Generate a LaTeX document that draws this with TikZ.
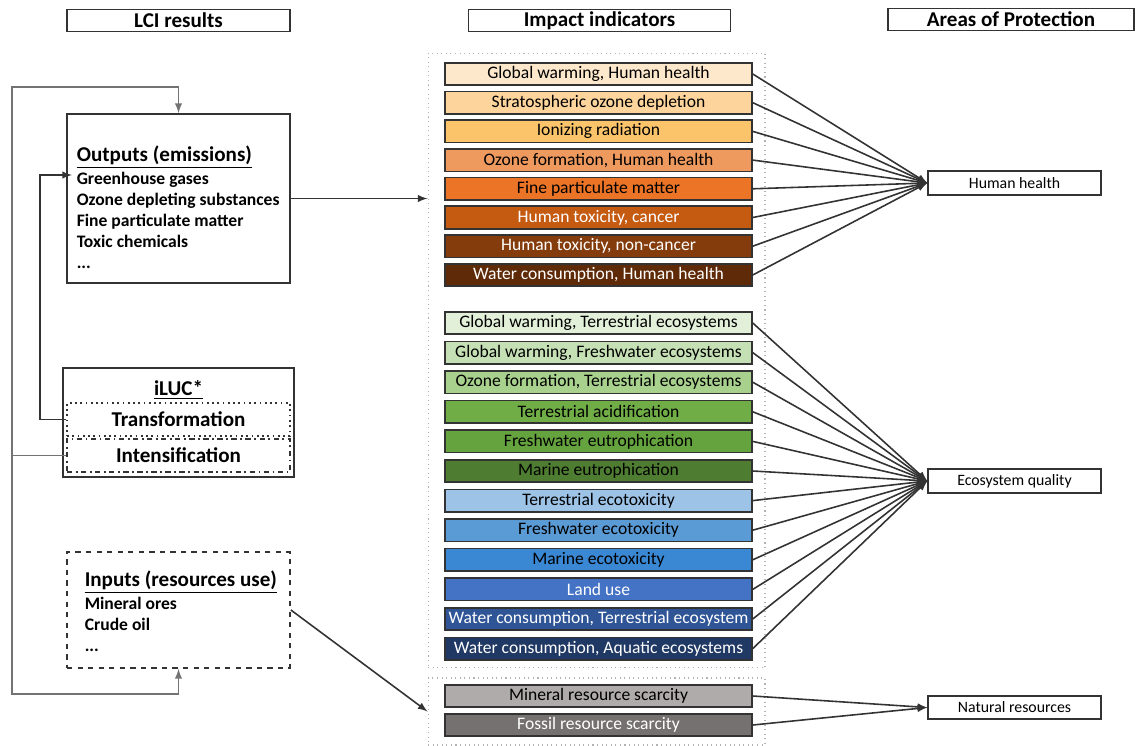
\documentclass[tikz,border=0pt]{standalone}
\usepackage{fontspec}
\setmainfont{Carlito}
\usetikzlibrary{arrows}

\definecolor{hhA}{HTML}{FDE8CB}
\definecolor{hhB}{HTML}{FCD49C}
\definecolor{hhC}{HTML}{FBC46A}
\definecolor{hhD}{HTML}{EE9A5E}
\definecolor{hhE}{HTML}{EC7426}
\definecolor{hhF}{HTML}{C55A11}
\definecolor{hhG}{HTML}{843C0C}
\definecolor{hhH}{HTML}{5E2A08}
\definecolor{eqA}{HTML}{E2F0D9}
\definecolor{eqB}{HTML}{C5E0B4}
\definecolor{eqC}{HTML}{A9D18E}
\definecolor{eqD}{HTML}{70AD47}
\definecolor{eqE}{HTML}{65A33F}
\definecolor{eqF}{HTML}{4E7D31}
\definecolor{eqG}{HTML}{9DC3E6}
\definecolor{eqH}{HTML}{5B9BD5}
\definecolor{eqI}{HTML}{3A88D4}
\definecolor{eqJ}{HTML}{4472C4}
\definecolor{eqK}{HTML}{2F5597}
\definecolor{eqL}{HTML}{203864}
\definecolor{nrA}{HTML}{AFABAB}
\definecolor{nrB}{HTML}{767171}
\definecolor{edge}{HTML}{333333}

\begin{document}
\begin{tikzpicture}[x=0.02cm, y=-0.02cm, >=latex, line width=0.9pt, draw=edge,
    ind node/.style={draw=edge, minimum width=6.14cm, minimum height=0.45cm, inner sep=0pt, font=\fontsize{10}{12}\selectfont},
    head node/.style={draw=edge, minimum height=0.44cm, inner sep=0pt, font=\bfseries\fontsize{12}{14}\selectfont},
    aop node/.style={draw=edge, minimum width=3.46cm, minimum height=0.47cm, inner sep=0pt, font=\fontsize{9}{11}\selectfont},
    grp node/.style={draw=black!30, dotted, line width=0.6pt, minimum width=6.74cm, inner sep=0pt},
    lci node/.style={draw=edge, line width=1pt, minimum width=4.46cm, inner sep=0pt, font=\bfseries\fontsize{12}{14}\selectfont},
    list node/.style={anchor=west, align=left, inner sep=0pt, font=\bfseries\fontsize{10}{12}\selectfont}]

    \useasboundingbox (0,0) rectangle (1135,746);

    % column headers
    \node[head node, minimum width=4.46cm] at (178.5, 20.5) (lci) {LCI results};
    \node[head node, minimum width=5.24cm] at (599.5, 20.5) (ind) {Impact indicators};
    \node[head node, minimum width=4.92cm] at (1011, 19.5) (aop) {Areas of Protection};

    % LCI results
    \node[lci node, minimum height=3.38cm] at (178.5, 198.5) (out) {};
    \node[list node] at (76, 207) (outtxt) {{\fontsize{12}{14}\selectfont\underline{Outputs (emissions)}}\\[1pt]
        Greenhouse gases\\ Ozone depleting substances\\ Fine particulate matter\\ Toxic chemicals\\ ...};
    \node[lci node, minimum width=4.62cm, minimum height=2.18cm] at (178.5, 422.5) (iluc) {};
    \node[font=\bfseries\fontsize{12}{14}\selectfont] at (178.5, 390) (iluctxt) {\underline{iLUC*}};
    \node[lci node, dotted, minimum height=0.66cm] at (178.5, 419.5) (trans) {Transformation};
    \node[lci node, dash dot, minimum height=0.66cm] at (178.5, 455.5) (intens) {Intensification};
    \node[lci node, dashed, minimum height=2.32cm] at (178.5, 610) (inp) {};
    \node[list node] at (84, 611) (inptxt) {{\fontsize{12}{14}\selectfont\underline{Inputs (resources use)}}\\[1pt]
        Mineral ores\\ Crude oil\\ ...};

    \coordinate (looptop) at (12, 87);
    \coordinate (loopbot) at (12, 694);
    \coordinate (ghg) at (72, 175);

    % impact indicators
    \node[grp node, minimum height=12.3cm] at (596.5, 360.5) (grphe) {};
    \node[grp node, minimum height=1.34cm] at (596.5, 711.5) (grpres) {};

    \node[ind node, fill=hhA] at (598.5, 74) (gwhh) {Global warming, Human health};
    \node[ind node, fill=hhB] at (598.5, 102.7) (sod) {Stratospheric ozone depletion};
    \node[ind node, fill=hhC] at (598.5, 131.4) (ir) {Ionizing radiation};
    \node[ind node, fill=hhD] at (598.5, 160.1) (ofhh) {Ozone formation, Human health};
    \node[ind node, fill=hhE] at (598.5, 188.8) (pm) {Fine particulate matter};
    \node[ind node, fill=hhF, text=white] at (598.5, 217.5) (htc) {Human toxicity, cancer};
    \node[ind node, fill=hhG, text=white] at (598.5, 246.2) (htnc) {Human toxicity, non-cancer};
    \node[ind node, fill=hhH, text=white] at (598.5, 275) (wchh) {Water consumption, Human health};

    \node[ind node, fill=eqA] at (598.5, 323) (gwte) {Global warming, Terrestrial ecosystems};
    \node[ind node, fill=eqB] at (598.5, 352.6) (gwfe) {Global warming, Freshwater ecosystems};
    \node[ind node, fill=eqC] at (598.5, 382.2) (ofte) {Ozone formation, Terrestrial ecosystems};
    \node[ind node, fill=eqD] at (598.5, 411.8) (ta) {Terrestrial acidification};
    \node[ind node, fill=eqE] at (598.5, 441.4) (fe) {Freshwater eutrophication};
    \node[ind node, fill=eqF] at (598.5, 471) (me) {Marine eutrophication};
    \node[ind node, fill=eqG] at (598.5, 500.6) (tet) {Terrestrial ecotoxicity};
    \node[ind node, fill=eqH] at (598.5, 530.2) (fet) {Freshwater ecotoxicity};
    \node[ind node, fill=eqI] at (598.5, 559.8) (met) {Marine ecotoxicity};
    \node[ind node, fill=eqJ, text=white] at (598.5, 589.4) (lu) {Land use};
    \node[ind node, fill=eqK, text=white] at (598.5, 619) (wcte) {Water consumption, Terrestrial ecosystem};
    \node[ind node, fill=eqL, text=white] at (598.5, 648.6) (wcae) {Water consumption, Aquatic ecosystems};

    \node[ind node, fill=nrA] at (598.5, 696) (mrs) {Mineral resource scarcity};
    \node[ind node, fill=nrB, text=white] at (598.5, 725) (frs) {Fossil resource scarcity};

    % areas of protection
    \node[aop node] at (1014.5, 183) (hh) {Human health};
    \node[aop node] at (1014.5, 481) (eq) {Ecosystem quality};
    \node[aop node] at (1014.5, 707.5) (nr) {Natural resources};

    % LCI connections
    \draw[->, black!55] (intens.west) -| (looptop) -| (out.north);
    \draw[->, black!55] (intens.west) -| (loopbot) -| (inp.south);
    \draw[->] (trans.west) -- ++(-26, 0) |- (ghg);
    \draw[->] (out.east) -- (out.east -| grphe.west);
    \draw[->] (inp.east) -- (grpres.west);

    \path[->] (gwhh.east) edge (hh.west);
    \path[->] (sod.east) edge (hh.west);
    \path[->] (ir.east) edge (hh.west);
    \path[->] (ofhh.east) edge (hh.west);
    \path[->] (pm.east) edge (hh.west);
    \path[->] (htc.east) edge (hh.west);
    \path[->] (htnc.east) edge (hh.west);
    \path[->] (wchh.east) edge (hh.west);

    \path[->] (gwte.east) edge (eq.west);
    \path[->] (gwfe.east) edge (eq.west);
    \path[->] (ofte.east) edge (eq.west);
    \path[->] (ta.east) edge (eq.west);
    \path[->] (fe.east) edge (eq.west);
    \path[->] (me.east) edge (eq.west);
    \path[->] (tet.east) edge (eq.west);
    \path[->] (fet.east) edge (eq.west);
    \path[->] (met.east) edge (eq.west);
    \path[->] (lu.east) edge (eq.west);
    \path[->] (wcte.east) edge (eq.west);
    \path[->] (wcae.east) edge (eq.west);

    \path[->] (mrs.east) edge (nr.west);
    \path[->] (frs.east) edge (nr.west);
\end{tikzpicture}
\end{document}
